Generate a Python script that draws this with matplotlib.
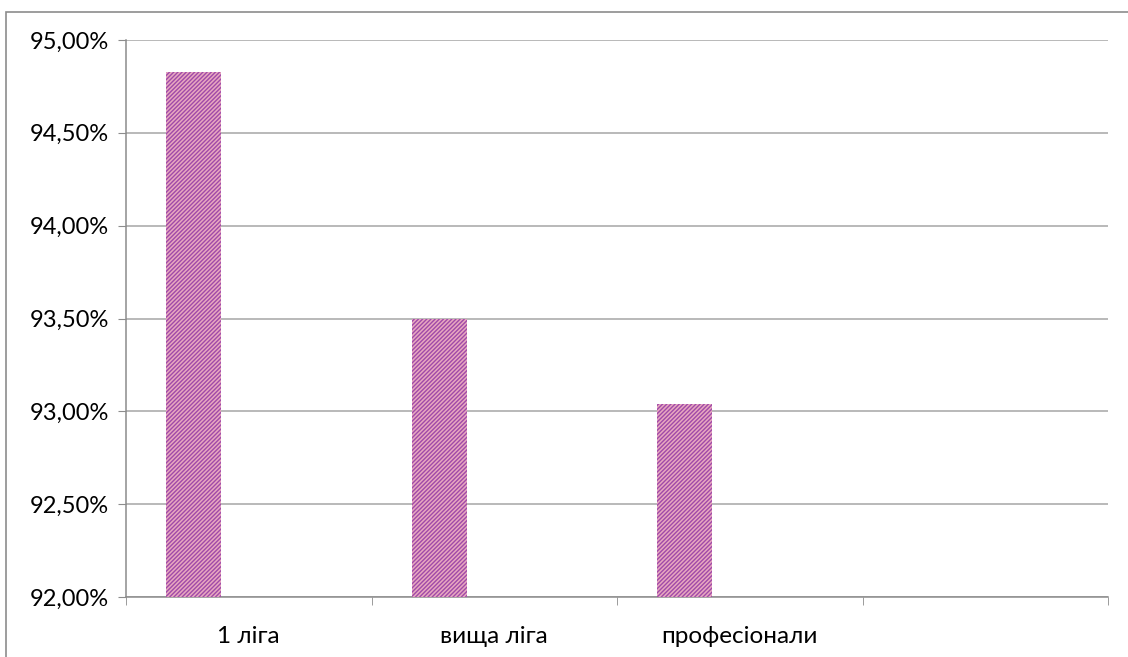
import matplotlib.pyplot as plt
from matplotlib.patches import Rectangle
from matplotlib.ticker import FixedLocator, FuncFormatter

plt.rcParams['font.family'] = ['Lato', 'DejaVu Sans']
plt.rcParams['hatch.color'] = '#a04aa8'
plt.rcParams['hatch.linewidth'] = 1.0

# дані
kategorii = ['1 ліга', 'вища ліга', 'професіонали', '']
znachennya = [94.83, 93.50, 93.04]
y_ticks = [92.0, 92.5, 93.0, 93.5, 94.0, 94.5, 95.0]

fig = plt.figure(figsize=(11.28, 6.57), dpi=100)
ax = fig.add_axes([126/1128, 1-597/657, (1108-126)/1128, (597-40)/657])

# рамка навколо діаграми
fig.patches.append(Rectangle((6/1128, -0.1), 1.2, 1 - 12/657 + 0.1,
                             transform=fig.transFigure, fill=False,
                             edgecolor='#8c8c8c', linewidth=1.2))

x = [i - 0.225 for i in range(len(znachennya))]
ax.bar(x, znachennya, width=0.224, bottom=0, color='#e8a8c0',
       hatch='////////', edgecolor='#a04aa8', linewidth=0, zorder=3)

ax.set_xlim(-0.5, len(kategorii) - 0.5)
ax.set_ylim(92, 95)

ax.set_yticks(y_ticks)
ax.yaxis.set_major_formatter(FuncFormatter(lambda v, p: ('%.2f%%' % v).replace('.', ',')))
ax.grid(axis='y', color='#a6a6a6', linewidth=1.1, zorder=0)

ax.set_xticks(range(len(kategorii)))
ax.set_xticklabels(kategorii)
ax.xaxis.set_minor_locator(FixedLocator([i - 0.5 for i in range(len(kategorii) + 1)]))
ax.tick_params(axis='x', which='major', length=0, pad=21, labelsize=17.5)
ax.tick_params(axis='x', which='minor', length=6, color='#8c8c8c')
ax.tick_params(axis='y', length=6, color='#8c8c8c', labelsize=17, pad=6)

for s in ['top', 'right']:
    ax.spines[s].set_visible(False)
for s in ['left', 'bottom']:
    ax.spines[s].set_color('#8c8c8c')
    ax.spines[s].set_linewidth(1.1)

fig.savefig('out.png', dpi=100)
